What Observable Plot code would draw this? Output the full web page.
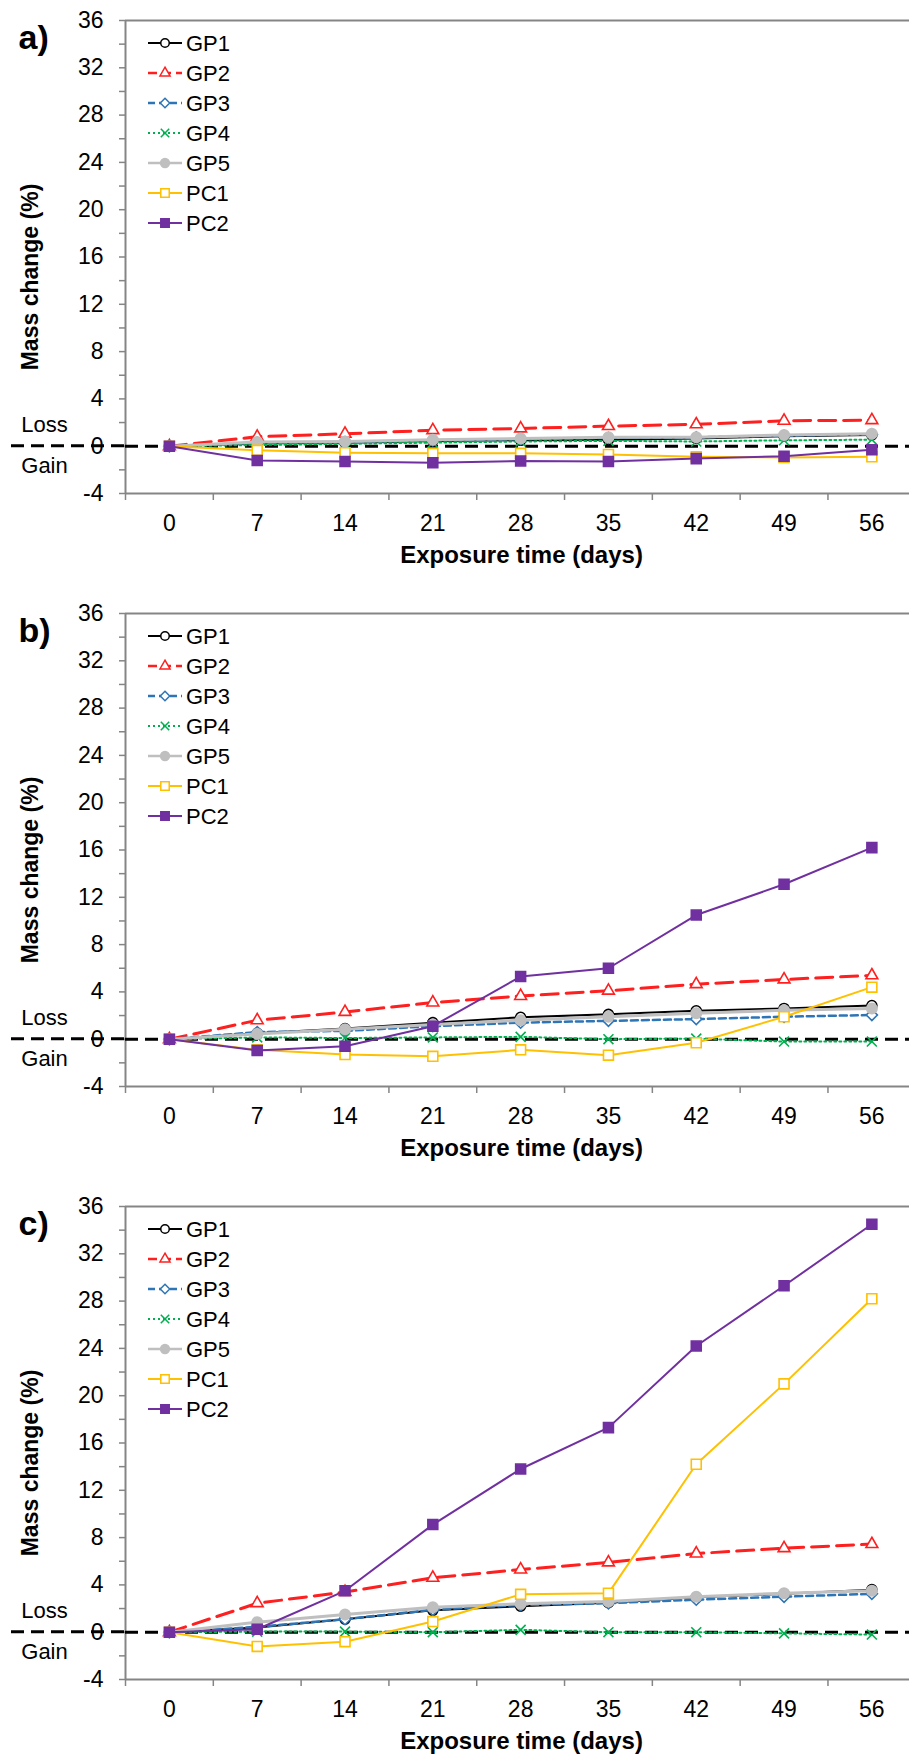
<!DOCTYPE html>
<html><head><meta charset="utf-8">
<script src="https://cdn.jsdelivr.net/npm/d3@7"></script>
<script src="https://cdn.jsdelivr.net/npm/@observablehq/plot@0.6"></script>
<style>
body{margin:0;background:#fff}
#charts svg{display:block}
</style>
</head><body><div id="charts"></div>
<script>
// ---- data ----
const days = [0, 7, 14, 21, 28, 35, 42, 49, 56];
const seriesNames = ["GP1", "GP2", "GP3", "GP4", "GP5", "PC1", "PC2"];
const panelLabels = ["a)", "b)", "c)"];
const yTickValues = [-4, -2, 0, 2, 4, 6, 8, 10, 12, 14, 16, 18, 20, 22, 24, 26, 28, 30, 32, 34, 36];
const xBoundaries = [-3.5, 3.5, 10.5, 17.5, 24.5, 31.5, 38.5, 45.5, 52.5, 59.5];

// panel a
const aGP1 = [0, 0.25, 0.3, 0.45, 0.5, 0.55, 0.65, 0.85, 0.95];
const aGP2 = [0, 0.8, 1.05, 1.35, 1.5, 1.7, 1.85, 2.15, 2.2];
const aGP3 = [0, 0.3, 0.35, 0.5, 0.6, 0.7, 0.75, 0.9, 1.0];
const aGP4 = [0, 0.1, 0.2, 0.3, 0.4, 0.45, 0.4, 0.5, 0.55];
const aGP5 = [0, 0.35, 0.4, 0.55, 0.65, 0.75, 0.75, 0.95, 1.05];
const aPC1 = [0, -0.35, -0.55, -0.6, -0.6, -0.7, -0.9, -0.95, -0.9];
const aPC2 = [0, -1.2, -1.3, -1.4, -1.25, -1.3, -1.05, -0.85, -0.3];
// panel b
const bGP1 = [0, 0.5, 0.9, 1.4, 1.85, 2.1, 2.4, 2.6, 2.85];
const bGP2 = [0, 1.6, 2.3, 3.1, 3.65, 4.1, 4.65, 5.05, 5.4];
const bGP3 = [0, 0.6, 0.7, 1.1, 1.4, 1.55, 1.7, 1.9, 2.05];
const bGP4 = [0, 0.15, 0.1, 0.15, 0.2, 0.0, 0.05, -0.2, -0.2];
const bGP5 = [0, 0.45, 0.85, 1.25, 1.6, 1.9, 2.2, 2.45, 2.6];
const bPC1 = [0, -0.9, -1.3, -1.45, -0.9, -1.35, -0.3, 1.9, 4.4];
const bPC2 = [0, -0.95, -0.6, 1.1, 5.3, 6.0, 10.5, 13.1, 16.2];
// panel c
const cGP1 = [0, 0.4, 1.1, 1.85, 2.2, 2.5, 2.95, 3.25, 3.6];
const cGP2 = [0, 2.45, 3.4, 4.6, 5.3, 5.9, 6.65, 7.1, 7.45];
const cGP3 = [0, 0.45, 1.1, 1.9, 2.3, 2.45, 2.75, 3.0, 3.25];
const cGP4 = [0, 0.05, 0.05, 0.0, 0.2, 0.0, 0.0, -0.1, -0.2];
const cGP5 = [0, 0.85, 1.5, 2.1, 2.4, 2.6, 3.0, 3.3, 3.5];
const cPC1 = [0, -1.2, -0.8, 0.9, 3.2, 3.3, 14.2, 21.0, 28.2];
const cPC2 = [0, 0.25, 3.5, 9.1, 13.8, 17.3, 24.2, 29.3, 34.5];

const panels = [
  [aGP1, aGP2, aGP3, aGP4, aGP5, aPC1, aPC2],
  [bGP1, bGP2, bGP3, bGP4, bGP5, bPC1, bPC2],
  [cGP1, cGP2, cGP3, cGP4, cGP5, cPC1, cPC2]
];

// ---- styles ----
const FONT = "'Liberation Sans', Arial, Helvetica, sans-serif";
const axisGray = "#858585";
const styles = {
  GP1: {color: "#000000", dash: null, width: 2, symbol: "circle", d3sym: d3.symbolCircle, r: 5, fill: "#ffffff"},
  GP2: {color: "#ff1f1f", dash: "17,8", width: 3, symbol: "triangle", d3sym: d3.symbolTriangle, r: 4.4, fill: "#ffffff"},
  GP3: {color: "#2e75b6", dash: "7,4", width: 2.5, symbol: "diamond2", d3sym: d3.symbolDiamond2, r: 5, fill: "#ffffff"},
  GP4: {color: "#00b050", dash: "2,3", width: 2, symbol: "times", d3sym: d3.symbolTimes, r: 4.6, fill: "none"},
  GP5: {color: "#bfbfbf", dash: null, width: 3, symbol: "circle", d3sym: d3.symbolCircle, r: 5.2, fill: "#bfbfbf"},
  PC1: {color: "#ffc000", dash: null, width: 2, symbol: "square", d3sym: d3.symbolSquare, r: 5.6, fill: "#ffffff"},
  PC2: {color: "#7030a0", dash: null, width: 2, symbol: "square", d3sym: d3.symbolSquare, r: 5.6, fill: "#7030a0"}
};

const W = 909, TOP = 20, FRAME_BOTTOM = 493;
const heights = [593, 593, 572];
const xDomain = [-3.5, 59];
const yDomain = [-4, 36];

function makePanel(p) {
  const H = heights[p];
  const rows = [];
  seriesNames.forEach((s, i) => panels[p][i].forEach((v, j) => rows.push({series: s, day: days[j], value: v})));

  const marks = [
    Plot.ruleY([yDomain[1]], {stroke: axisGray, strokeWidth: 2}),
    Plot.ruleY([yDomain[0]], {stroke: axisGray, strokeWidth: 2}),
    Plot.ruleX([xDomain[0]], {stroke: axisGray, strokeWidth: 2}),
    Plot.axisY({ticks: yTickValues, tickFormat: d => (d % 4 === 0 ? String(d) : ""), tickSize: 6, tickPadding: 16, stroke: axisGray, strokeWidth: 1.5, fill: "#000", fontSize: 23, label: null}),
    Plot.axisX({ticks: xBoundaries, tickFormat: () => "", tickSize: 7, stroke: axisGray, strokeWidth: 1.5, label: null}),
    Plot.axisX({ticks: days, tickSize: 0, tickPadding: 21, fill: "#000", fontSize: 23, label: null}),
    Plot.ruleY([0], {stroke: "#000", strokeWidth: 3, strokeDasharray: "13,7"})
  ];
  seriesNames.forEach(s => {
    const st = styles[s];
    const d = rows.filter(r => r.series === s);
    marks.push(Plot.line(d, {x: "day", y: "value", stroke: st.color, strokeWidth: st.width, strokeDasharray: st.dash}));
    marks.push(Plot.dot(d, {x: "day", y: "value", symbol: st.symbol, r: st.r, fill: st.fill, stroke: st.color, strokeWidth: 1.6}));
  });
  marks.push(
    Plot.text(["Exposure time (days)"], {frameAnchor: "bottom", dx: 4, dy: 62, fontSize: 24, fontWeight: "bold", textAnchor: "middle", lineAnchor: "middle", fill: "#000"}),
    Plot.text(["Mass change (%)"], {frameAnchor: "left", dx: -95, dy: 20, rotate: -90, fontSize: 23, fontWeight: "bold", textAnchor: "middle", lineAnchor: "middle", fill: "#000"}),
    Plot.text([panelLabels[p]], {frameAnchor: "top-left", dx: -107, dy: 18, textAnchor: "start", lineAnchor: "middle", fontSize: 34, fontWeight: "bold", fill: "#000"}),
    Plot.text(["Loss"], {y: () => 0, text: d => d, frameAnchor: "left", dx: -81, dy: -21, fontSize: 22, textAnchor: "middle", lineAnchor: "middle", fill: "#000"}),
    Plot.text(["Gain"], {y: () => 0, text: d => d, frameAnchor: "left", dx: -81, dy: 20, fontSize: 22, textAnchor: "middle", lineAnchor: "middle", fill: "#000"})
  );

  const chart = Plot.plot({
    width: W, height: H,
    marginLeft: 125, marginRight: 0, marginTop: TOP, marginBottom: H - FRAME_BOTTOM,
    x: {domain: xDomain},
    y: {domain: yDomain},
    style: {fontFamily: FONT, fontSize: "23px", background: "#fff", overflow: "visible"},
    marks
  });

  const svg = d3.select(chart);
  // zero line continuation to the left of the axis
  const y0 = chart.scale("y").apply(0);
  const xLeft = chart.scale("x").apply(xDomain[0]);
  svg.append("line")
    .attr("x1", 11).attr("x2", xLeft).attr("y1", y0).attr("y2", y0)
    .attr("stroke", "#000").attr("stroke-width", 3).attr("stroke-dasharray", "13,7");

  // legend
  const lg = svg.append("g").attr("font-family", FONT).attr("font-size", 22).attr("text-anchor", "start");
  seriesNames.forEach((s, i) => {
    const st = styles[s];
    const y = TOP + 23 + i * 30;
    lg.append("line").attr("x1", 148).attr("x2", 182).attr("y1", y).attr("y2", y)
      .attr("stroke", st.color).attr("stroke-width", Math.min(st.width, 2.5))
      .attr("stroke-dasharray", st.dash ? (s === "GP2" ? "9,5" : st.dash) : null);
    lg.append("path").attr("transform", `translate(165,${y})`)
      .attr("d", d3.symbol(st.d3sym, Math.PI * (st.r * 0.85) ** 2)())
      .attr("fill", st.fill).attr("stroke", st.color).attr("stroke-width", 1.5);
    lg.append("text").attr("x", 186).attr("y", y).attr("dy", "0.36em").attr("fill", "#000").text(s);
  });
  return chart;
}

const container = document.getElementById("charts");
[0, 1, 2].forEach(p => container.appendChild(makePanel(p)));
</script>
</body></html>
